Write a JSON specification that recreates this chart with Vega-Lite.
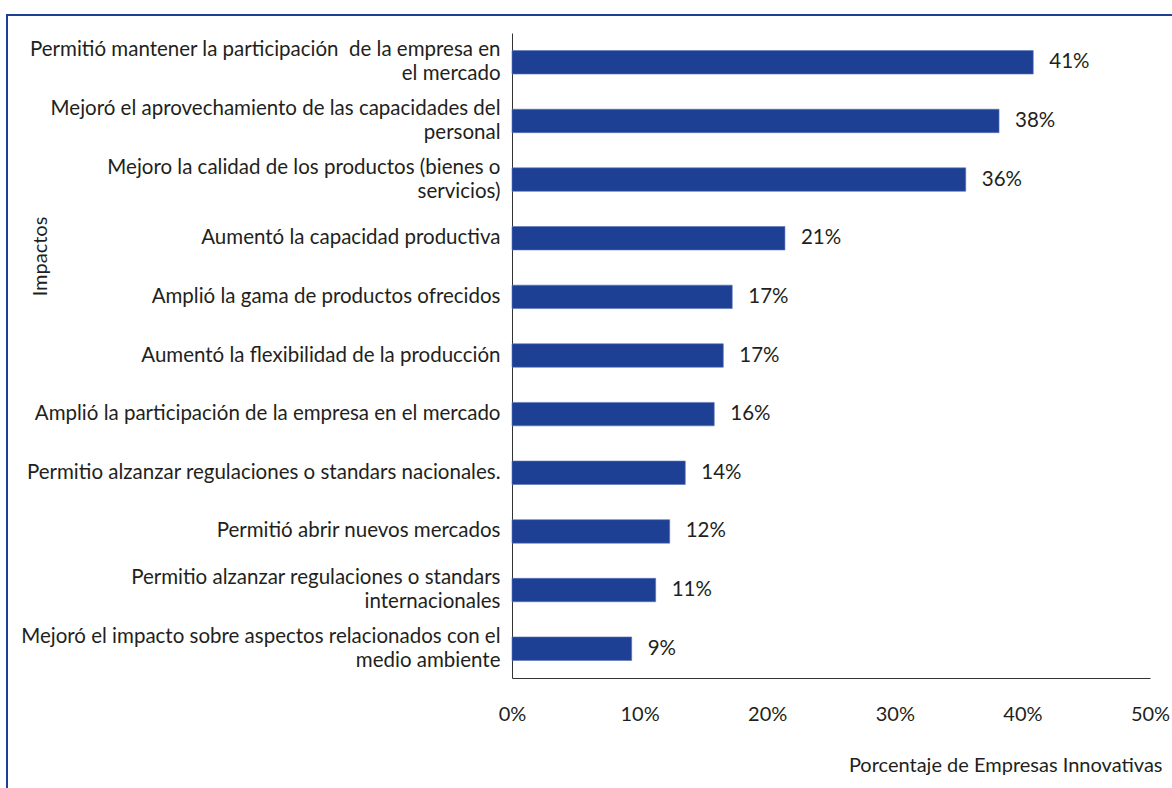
{
  "$schema": "https://vega.github.io/schema/vega-lite/v6.json",
  "autosize": "none",
  "width": 1168,
  "height": 776,
  "padding": {"left": 7, "top": 15, "right": -3, "bottom": -3},
  "background": "white",
  "config": {
    "view": {"stroke": "#1d3f94", "strokeWidth": 2},
    "font": "Lato",
    "axis": {"labelFont": "Lato", "titleFont": "Lato", "labelColor": "#231f20", "titleColor": "#231f20", "titleFontWeight": "normal"}
  },
  "data": {
    "values": [
      {"impacto": "Permitió mantener la participación\u00a0 de la empresa en\u00a0|el mercado", "pct": 40.85, "label": "41%"},
      {"impacto": "Mejoró el aprovechamiento de las capacidades del\u00a0|personal", "pct": 38.17, "label": "38%"},
      {"impacto": "Mejoro la calidad de los productos (bienes o\u00a0|servicios)", "pct": 35.56, "label": "36%"},
      {"impacto": "Aumentó la capacidad productiva", "pct": 21.39, "label": "21%"},
      {"impacto": "Amplió la gama de productos ofrecidos", "pct": 17.26, "label": "17%"},
      {"impacto": "Aumentó la flexibilidad de la producción", "pct": 16.56, "label": "17%"},
      {"impacto": "Amplió la participación de la empresa en el mercado", "pct": 15.85, "label": "16%"},
      {"impacto": "Permitio alzanzar regulaciones o standars nacionales.", "pct": 13.58, "label": "14%"},
      {"impacto": "Permitió abrir nuevos mercados", "pct": 12.36, "label": "12%"},
      {"impacto": "Permitio alzanzar regulaciones o standars\u00a0|internacionales", "pct": 11.26, "label": "11%"},
      {"impacto": "Mejoró el impacto sobre aspectos relacionados con el|medio ambiente", "pct": 9.38, "label": "9%"}
    ]
  },
  "encoding": {
    "y": {
      "field": "impacto",
      "type": "nominal",
      "sort": null,
      "scale": {"range": [18, 663], "paddingInner": 0.6, "paddingOuter": 0.3},
      "axis": {
        "offset": -505,
        "title": "Impactos",
        "titleFontSize": 20,
        "titleX": -472,
        "titleY": 241,
        "titleAngle": -90,
        "titleAlign": "center",
        "titleBaseline": "middle",
        "labelExpr": "split(datum.label, '|')",
        "labelOffset": {"expr": "indexof(datum.label, '|') >= 0 ? -12 : 0"},
        "labelFontSize": 20.5,
        "labelLineHeight": 24,
        "labelPadding": 12,
        "labelLimit": 0,
        "ticks": false,
        "tickSize": 0,
        "domainColor": "#333333",
        "domainWidth": 1
      }
    },
    "x": {
      "field": "pct",
      "type": "quantitative",
      "scale": {"domain": [0, 50], "range": [505, 1143]},
      "axis": {
        "offset": -113,
        "title": "Porcentaje de Empresas Innovativas",
        "titleFontSize": 20,
        "titleX": 1155,
        "titleY": 87,
        "titleAlign": "right",
        "titleBaseline": "middle",
        "titleAnchor": null,
        "values": [0, 10, 20, 30, 40, 50],
        "labelExpr": "datum.value + '%'",
        "labelFontSize": 20,
        "labelBaseline": "middle",
        "labelPadding": 36,
        "ticks": false,
        "tickSize": 0,
        "grid": false,
        "domainColor": "#333333",
        "domainWidth": 1,
        "labelFlush": false,
        "labelOverlap": false
      }
    }
  },
  "layer": [
    {"mark": {"type": "bar", "color": "#1d3f94", "stroke": "#5a74b8", "strokeWidth": 0.6}},
    {
      "mark": {"type": "text", "align": "left", "baseline": "middle", "dx": 16, "fontSize": 20.5, "color": "#231f20", "font": "Lato"},
      "encoding": {"text": {"field": "label"}}
    }
  ]
}
